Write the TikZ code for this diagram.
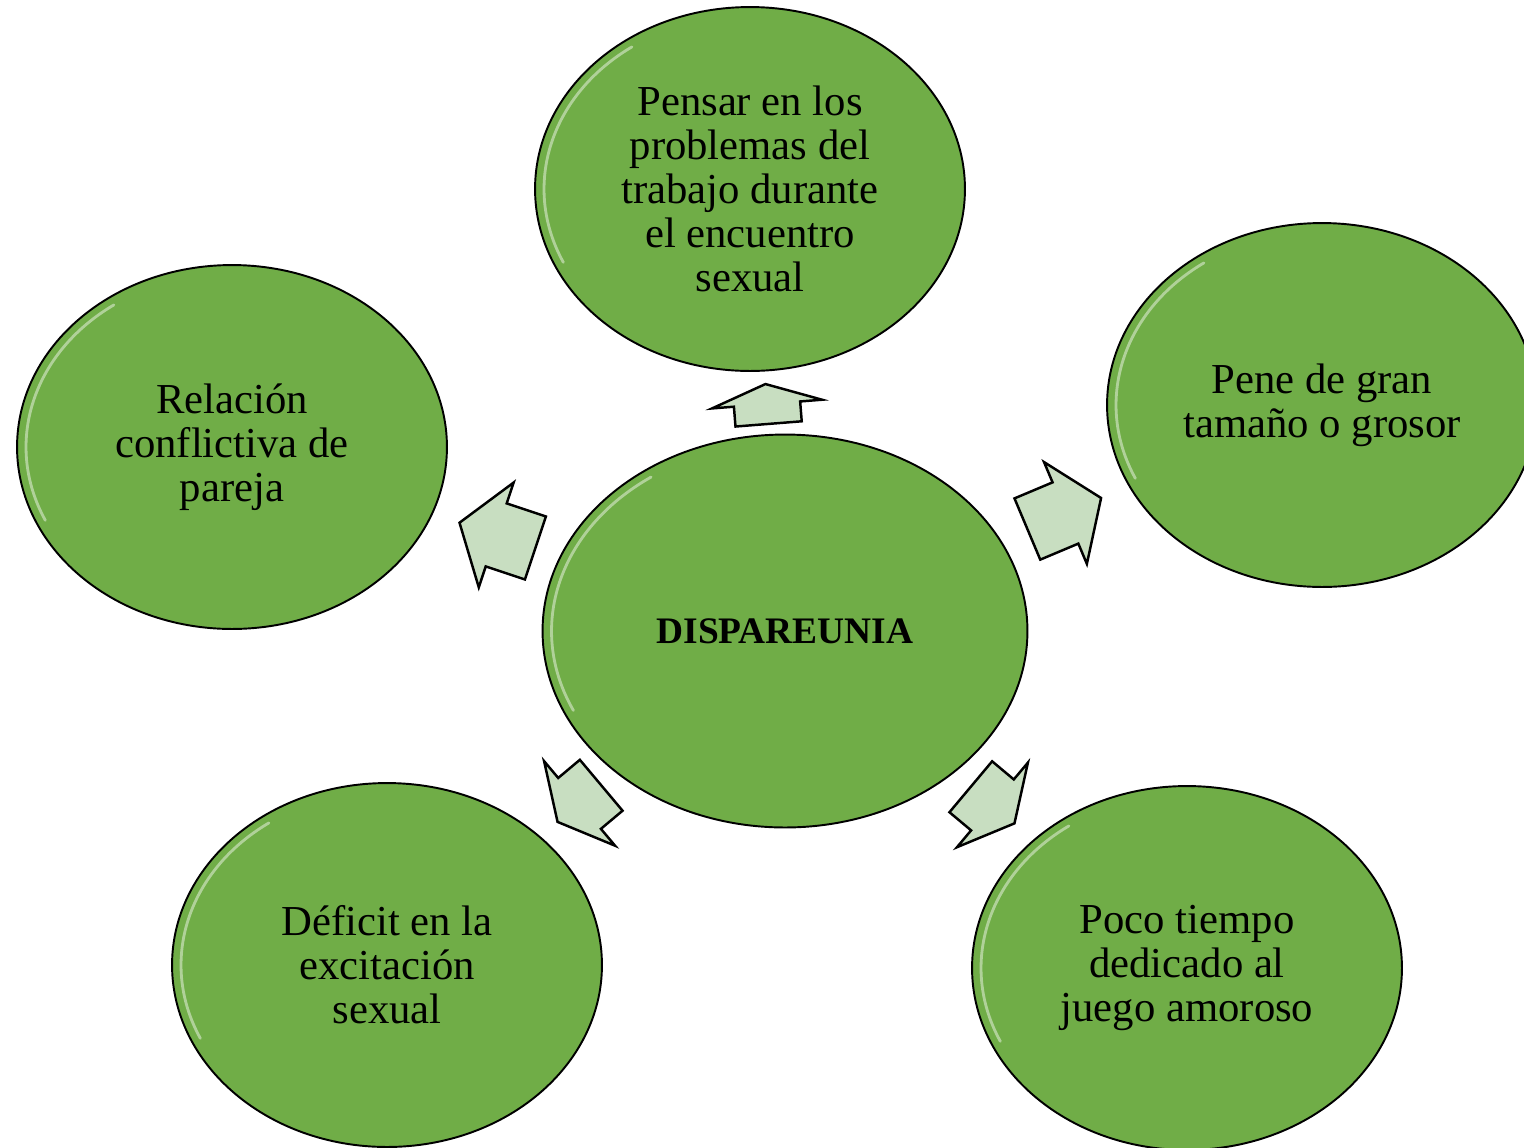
\documentclass[tikz,border=0pt]{standalone}
\usepackage{fontspec}
\setmainfont{Liberation Serif}
\usetikzlibrary{shapes.geometric,shapes.arrows}

\definecolor{leafgreen}{HTML}{70AD47}
\definecolor{palegreen}{HTML}{C8DEC1}

\begin{document}
\begin{tikzpicture}
	[x=0.02cm,y=-0.02cm,
		gloss/.style={white,opacity=0.45,line width=1.6pt,line cap=round},
		bubble/.style={ellipse,draw=black,line width=1.1pt,fill=leafgreen,minimum width=8.6cm,minimum height=7.28cm,inner sep=0pt,align=center,font=\fontsize{24.3}{25}\selectfont,
			path picture={\draw[gloss] ([shift={(125:4.12cm and 3.47cm)}]path picture bounding box.center) arc[start angle=125,end angle=205,x radius=4.12cm,y radius=3.47cm];}},
		hub/.style={ellipse,draw=black,line width=1.1pt,fill=leafgreen,minimum width=9.7cm,minimum height=7.86cm,inner sep=0pt,font=\fontsize{21.3}{25}\selectfont\bfseries,
			path picture={\draw[gloss] ([shift={(125:4.67cm and 3.76cm)}]path picture bounding box.center) arc[start angle=125,end angle=205,x radius=4.67cm,y radius=3.76cm];}},
		blockarrow/.style={single arrow,draw=black,line width=1.4pt,fill=palegreen,inner xsep=0pt,inner ysep=0.64cm,single arrow head extend=0.44cm,sloped,allow upside down,pos=0.5}]

	\clip (0,0) rectangle (1524,1147);

	\node[hub] (hub) at (785,631) {DISPAREUNIA};
	\node[bubble] (work) at (750,189) {Pensar en los\\problemas del\\trabajo durante\\el encuentro\\sexual};
	\node[bubble] (couple) at (232,447) {Relación\\conflictiva de\\pareja};
	\node[bubble] (size) at (1322,405) {Pene de gran\\tamaño o grosor};
	\node[bubble] (arousal) at (387,965) {Déficit en la\\excitación\\sexual};
	\node[bubble] (foreplay) at (1187,968) {Poco tiempo\\dedicado al\\juego amoroso};

	% arrows from the hub outwards
	\path (hub.center) -- node[blockarrow,minimum height=0.8cm,single arrow tip angle=140] {} (work.center);
	\path (hub.center) -- node[blockarrow,minimum height=1.6cm,single arrow tip angle=110] {} (couple.center);
	\path (hub.center) -- node[blockarrow,minimum height=1.6cm,single arrow tip angle=110] {} (size.center);
	\path (hub.center) -- node[blockarrow,minimum height=1.14cm,single arrow tip angle=125] {} (arousal.center);
	\path (hub.center) -- node[blockarrow,minimum height=1.14cm,single arrow tip angle=125] {} (foreplay.center);
\end{tikzpicture}
\end{document}
